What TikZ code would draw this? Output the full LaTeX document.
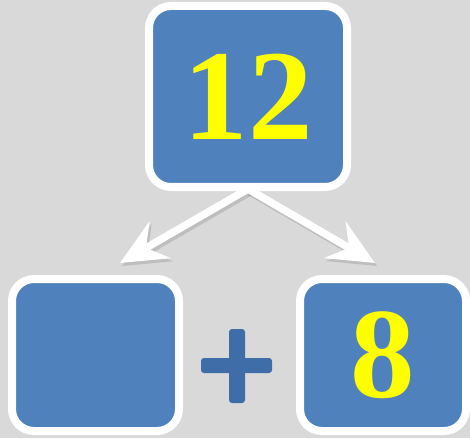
\documentclass[tikz,border=0pt]{standalone}
\usepackage{fontspec}
\setmainfont{Liberation Serif}
\usetikzlibrary{arrows.meta,shadows}
\definecolor{bg}{HTML}{D9D9D9}
\definecolor{boxblue}{HTML}{4F81BD}
\definecolor{plusblue}{HTML}{3E6DA7}
\definecolor{numyellow}{HTML}{FFFF00}
\tikzset{
  numbox/.style={draw=white, line width=8pt, fill=boxblue, rounded corners=22pt,
    inner sep=0pt, text=numyellow, font=\bfseries\fontsize{129}{129}\selectfont,
    drop shadow={opacity=0.25, shadow xshift=2pt, shadow yshift=-3pt}},
  plusbar/.style={fill=plusblue, rounded corners=3pt, inner sep=0pt, draw=none},
  splitarrow/.style={draw=white, line width=7.5pt,
    -{Stealth[length=46pt,width=42pt,inset=16pt]}},
  splitshadow/.style={draw=black, opacity=0.12, line width=7.5pt,
    -{Stealth[length=46pt,width=42pt,inset=16pt]}}
}
\begin{document}
\begin{tikzpicture}[x=1pt,y=-1pt]
\fill[bg] (0,0) rectangle (470,438);
\useasboundingbox (0,0) rectangle (470,438);
% boxes
\node[numbox, minimum width=198pt, minimum height=181pt] (top) at (248,96.5) {\raisebox{-6pt}{12}};
\node[numbox, minimum width=167pt, minimum height=152pt] (left) at (95.5,355) {};
\node[numbox, minimum width=166pt, minimum height=152pt] (right) at (383,355) {\raisebox{-6.5pt}{8}};
% plus sign
\node[plusbar, minimum width=71pt, minimum height=15pt] (plush) at (236.5,365.5) {};
\node[plusbar, minimum width=16pt, minimum height=74pt] (plusv) at (237,366) {};
% arrows
\coordinate (apex) at (248,189);
\coordinate (lt) at (120,263);
\coordinate (rt) at (375,263);
\coordinate (apexs) at (250,192);
\coordinate (lts) at (122,266);
\coordinate (rts) at (377,266);
\draw[splitshadow] (apexs) -- (lts);
\draw[splitshadow] (apexs) -- (rts);
\draw[splitarrow] (apex) -- (lt);
\draw[splitarrow] (apex) -- (rt);
\end{tikzpicture}
\end{document}
